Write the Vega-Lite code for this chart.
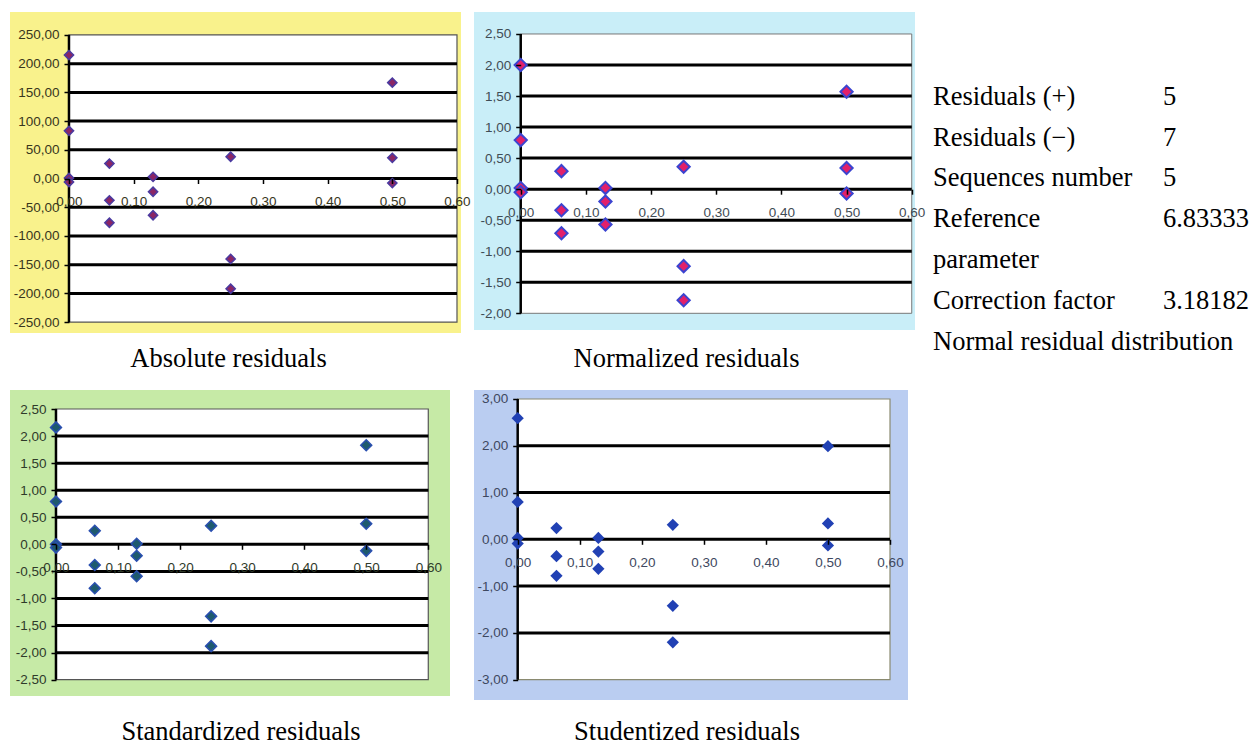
{
  "$schema": "https://vega.github.io/schema/vega-lite/v6.json",
  "background": "white",
  "padding": {"left": 10, "top": 12, "right": 0, "bottom": 0},
  "config": {
    "locale": {"number": {"decimal": ",", "thousands": ".", "grouping": [3], "currency": ["", ""], "minus": "-"}},
    "view": {"stroke": null},
    "axis": {"domain": false, "grid": false, "ticks": true, "tickColor": "black", "tickWidth": 1.5, "tickSize": 5, "tickCount": 30, "labelFont": "Liberation Sans", "labelFontSize": 13.5, "labelOverlap": false, "labelFlush": false, "labelBound": false, "zindex": 1}
  },
  "datasets": {
    "abs": [
      {"x": 0, "r": 215}, {"x": 0, "r": 83}, {"x": 0, "r": 1}, {"x": 0, "r": -6},
      {"x": 0.0625, "r": 26}, {"x": 0.0625, "r": -38}, {"x": 0.0625, "r": -77},
      {"x": 0.13, "r": 3}, {"x": 0.13, "r": -23}, {"x": 0.13, "r": -64},
      {"x": 0.25, "r": 38}, {"x": 0.25, "r": -140}, {"x": 0.25, "r": -192},
      {"x": 0.5, "r": 167}, {"x": 0.5, "r": 36}, {"x": 0.5, "r": -8}
    ],
    "norm": [
      {"x": 0, "r": 2.0}, {"x": 0, "r": 0.79}, {"x": 0, "r": 0.02}, {"x": 0, "r": -0.05},
      {"x": 0.0625, "r": 0.29}, {"x": 0.0625, "r": -0.34}, {"x": 0.0625, "r": -0.71},
      {"x": 0.13, "r": 0.02}, {"x": 0.13, "r": -0.2}, {"x": 0.13, "r": -0.57},
      {"x": 0.25, "r": 0.36}, {"x": 0.25, "r": -1.24}, {"x": 0.25, "r": -1.79},
      {"x": 0.5, "r": 1.57}, {"x": 0.5, "r": 0.34}, {"x": 0.5, "r": -0.07}
    ],
    "std": [
      {"x": 0, "r": 2.16}, {"x": 0, "r": 0.79}, {"x": 0, "r": 0.0}, {"x": 0, "r": -0.06},
      {"x": 0.0625, "r": 0.25}, {"x": 0.0625, "r": -0.38}, {"x": 0.0625, "r": -0.81},
      {"x": 0.13, "r": 0.01}, {"x": 0.13, "r": -0.21}, {"x": 0.13, "r": -0.59},
      {"x": 0.25, "r": 0.345}, {"x": 0.25, "r": -1.33}, {"x": 0.25, "r": -1.88},
      {"x": 0.5, "r": 1.83}, {"x": 0.5, "r": 0.38}, {"x": 0.5, "r": -0.12}
    ],
    "stud": [
      {"x": 0, "r": 2.59}, {"x": 0, "r": 0.8}, {"x": 0, "r": 0.03}, {"x": 0, "r": -0.09},
      {"x": 0.0625, "r": 0.24}, {"x": 0.0625, "r": -0.36}, {"x": 0.0625, "r": -0.78},
      {"x": 0.13, "r": 0.03}, {"x": 0.13, "r": -0.26}, {"x": 0.13, "r": -0.63},
      {"x": 0.25, "r": 0.31}, {"x": 0.25, "r": -1.42}, {"x": 0.25, "r": -2.2},
      {"x": 0.5, "r": 1.99}, {"x": 0.5, "r": 0.34}, {"x": 0.5, "r": -0.13}
    ],
    "stats": [
      {"line": 1, "label": "Residuals (+)", "value": "5"},
      {"line": 2, "label": "Residuals (−)", "value": "7"},
      {"line": 3, "label": "Sequences number", "value": "5"},
      {"line": 4, "label": "Reference", "value": "6.83333"},
      {"line": 5, "label": "parameter", "value": ""},
      {"line": 6, "label": "Correction factor", "value": "3.18182"},
      {"line": 7, "label": "Normal residual distribution", "value": ""}
    ]
  },
  "spacing": 17,
  "vconcat": [
    {
      "spacing": 3,
      "hconcat": [
        {
          "width": 451, "height": 321,
          "view": {"fill": "#F9F28C", "stroke": null},
          "title": {"text": "Absolute residuals", "orient": "bottom", "anchor": "middle", "font": "Liberation Serif", "fontSize": 26.5, "fontWeight": "normal", "color": "black", "offset": 13, "dx": -7},
          "layer": [
            {
              "data": {"values": [{}]},
              "mark": {"type": "rect", "fill": "white", "stroke": "#555555", "strokeWidth": 1.2},
              "encoding": {
                "x": {"datum": 0, "type": "quantitative", "title": null, "scale": {"domain": [-0.0912, 0.6062], "nice": false, "zero": false},
                      "axis": {"values": [0, 0.1, 0.2, 0.3, 0.4, 0.5, 0.6], "tickCount": 30, "format": ".2f", "offset": -154.5, "labelPadding": 11, "labelColor": "#38361c", "labelOverlap": false, "zindex": 1}},
                "x2": {"datum": 0.6},
                "y": {"datum": -250, "type": "quantitative", "title": null, "scale": {"domain": [-269, 290], "nice": false, "zero": false},
                      "axis": {"values": [-250, -200, -150, -100, -50, 0, 50, 100, 150, 200, 250], "tickCount": 30, "format": ".2f", "offset": -59, "labelPadding": 5, "labelColor": "#38361c", "labelOverlap": false, "zindex": 1}},
                "y2": {"datum": 250}
              }
            },
            {
              "data": {"values": [{"g": 200}, {"g": 150}, {"g": 100}, {"g": 50}, {"g": 0}, {"g": -50}, {"g": -100}, {"g": -150}, {"g": -200}]},
              "mark": {"type": "rule", "color": "black", "strokeWidth": 3},
              "encoding": {"y": {"field": "g", "type": "quantitative", "title": null}, "x": {"datum": 0, "type": "quantitative", "title": null}, "x2": {"datum": 0.6}}
            },
            {
              "data": {"values": [{}]},
              "mark": {"type": "rule", "color": "black", "strokeWidth": 2.5},
              "encoding": {"x": {"datum": 0, "type": "quantitative", "title": null}, "y": {"datum": -250, "type": "quantitative", "title": null}, "y2": {"datum": 250}}
            },
            {
              "data": {"name": "abs"},
              "mark": {"type": "point", "shape": "diamond", "filled": true, "size": 85, "fill": "#8B2565", "stroke": "#4A3AA0", "strokeWidth": 1.5, "opacity": 1},
              "encoding": {"x": {"field": "x", "type": "quantitative", "title": null}, "y": {"field": "r", "type": "quantitative", "title": null}}
            }
          ]
        },
        {
          "width": 441, "height": 318,
          "view": {"fill": "#C9EEF8", "stroke": null},
          "title": {"text": "Normalized residuals", "orient": "bottom", "anchor": "middle", "font": "Liberation Serif", "fontSize": 26.5, "fontWeight": "normal", "color": "black", "offset": 16, "dx": -8},
          "layer": [
            {
              "data": {"values": [{}]},
              "mark": {"type": "rect", "fill": "white", "stroke": "#777777", "strokeWidth": 1},
              "encoding": {
                "x": {"datum": 0, "type": "quantitative", "title": null, "scale": {"domain": [-0.0717, 0.605], "nice": false, "zero": false},
                      "axis": {"values": [0, 0.1, 0.2, 0.3, 0.4, 0.5, 0.6], "tickCount": 30, "format": ".2f", "offset": -140.8, "labelPadding": 11, "labelColor": "#3f4c55", "labelOverlap": false, "zindex": 1}},
                "x2": {"datum": 0.6},
                "y": {"datum": -2, "type": "quantitative", "title": null, "scale": {"domain": [-2.269, 2.854], "nice": false, "zero": false},
                      "axis": {"values": [-2, -1.5, -1, -0.5, 0, 0.5, 1, 1.5, 2, 2.5], "tickCount": 30, "format": ".2f", "offset": -46.7, "labelPadding": 5, "labelColor": "#3f4c55", "labelOverlap": false, "zindex": 1}},
                "y2": {"datum": 2.5}
              }
            },
            {
              "data": {"values": [{"g": 2}, {"g": 1.5}, {"g": 1}, {"g": 0.5}, {"g": 0}, {"g": -0.5}, {"g": -1}, {"g": -1.5}]},
              "mark": {"type": "rule", "color": "black", "strokeWidth": 3},
              "encoding": {"y": {"field": "g", "type": "quantitative", "title": null}, "x": {"datum": 0, "type": "quantitative", "title": null}, "x2": {"datum": 0.6}}
            },
            {
              "data": {"values": [{}]},
              "mark": {"type": "rule", "color": "black", "strokeWidth": 2.5},
              "encoding": {"x": {"datum": 0, "type": "quantitative", "title": null}, "y": {"datum": -2, "type": "quantitative", "title": null}, "y2": {"datum": 2.5}}
            },
            {
              "data": {"name": "norm"},
              "mark": {"type": "point", "shape": "diamond", "filled": true, "size": 150, "fill": "#E2206A", "stroke": "#3B44D0", "strokeWidth": 2, "opacity": 1},
              "encoding": {"x": {"field": "x", "type": "quantitative", "title": null}, "y": {"field": "r", "type": "quantitative", "title": null}}
            }
          ]
        },
        {
          "width": 325, "height": 321,
          "data": {"name": "stats"},
          "view": {"stroke": null},
          "layer": [
            {
              "mark": {"type": "text", "align": "left", "baseline": "middle", "font": "Liberation Serif", "fontSize": 26.5, "color": "black"},
              "encoding": {
                "x": {"datum": 0, "type": "quantitative", "scale": {"domain": [-0.0217, 1.3913], "nice": false, "zero": false}, "axis": null},
                "y": {"field": "line", "type": "quantitative", "scale": {"domain": [-1.0745, 6.787], "reverse": true, "nice": false, "zero": false}, "axis": null},
                "text": {"field": "label"}
              }
            },
            {
              "mark": {"type": "text", "align": "left", "baseline": "middle", "font": "Liberation Serif", "fontSize": 26.5, "color": "black"},
              "encoding": {
                "x": {"datum": 1, "type": "quantitative", "axis": null},
                "y": {"field": "line", "type": "quantitative", "axis": null},
                "text": {"field": "value"}
              }
            }
          ]
        }
      ]
    },
    {
      "spacing": 24,
      "hconcat": [
        {
          "width": 440, "height": 306,
          "view": {"fill": "#C6EAA6", "stroke": null},
          "title": {"text": "Standardized residuals", "orient": "bottom", "anchor": "middle", "font": "Liberation Serif", "fontSize": 26.5, "fontWeight": "normal", "color": "black", "offset": 23, "dx": 11},
          "layer": [
            {
              "data": {"values": [{}]},
              "mark": {"type": "rect", "fill": "white", "stroke": "#555555", "strokeWidth": 1.2},
              "encoding": {
                "x": {"datum": 0, "type": "quantitative", "title": null, "scale": {"domain": [-0.0741, 0.635], "nice": false, "zero": false},
                      "axis": {"values": [0, 0.1, 0.2, 0.3, 0.4, 0.5, 0.6], "tickCount": 30, "format": ".2f", "offset": -151.7, "labelPadding": 11, "labelColor": "#2f3a2a", "labelOverlap": false, "zindex": 1}},
                "x2": {"datum": 0.6},
                "y": {"datum": -2.5, "type": "quantitative", "title": null, "scale": {"domain": [-2.801, 2.851], "nice": false, "zero": false},
                      "axis": {"values": [-2.5, -2, -1.5, -1, -0.5, 0, 0.5, 1, 1.5, 2, 2.5], "tickCount": 30, "format": ".2f", "offset": -46, "labelPadding": 5, "labelColor": "#2f3a2a", "labelOverlap": false, "zindex": 1}},
                "y2": {"datum": 2.5}
              }
            },
            {
              "data": {"values": [{"g": 2}, {"g": 1.5}, {"g": 1}, {"g": 0.5}, {"g": 0}, {"g": -0.5}, {"g": -1}, {"g": -1.5}, {"g": -2}]},
              "mark": {"type": "rule", "color": "black", "strokeWidth": 3},
              "encoding": {"y": {"field": "g", "type": "quantitative", "title": null}, "x": {"datum": 0, "type": "quantitative", "title": null}, "x2": {"datum": 0.6}}
            },
            {
              "data": {"values": [{}]},
              "mark": {"type": "rule", "color": "black", "strokeWidth": 2.5},
              "encoding": {"x": {"datum": 0, "type": "quantitative", "title": null}, "y": {"datum": -2.5, "type": "quantitative", "title": null}, "y2": {"datum": 2.5}}
            },
            {
              "data": {"name": "std"},
              "mark": {"type": "point", "shape": "diamond", "filled": true, "size": 120, "fill": "#1E5A6E", "stroke": "#2A4FB0", "strokeWidth": 1.5, "opacity": 1},
              "encoding": {"x": {"field": "x", "type": "quantitative", "title": null}, "y": {"field": "r", "type": "quantitative", "title": null}}
            }
          ]
        },
        {
          "width": 434, "height": 310,
          "view": {"fill": "#BACDF1", "stroke": null},
          "title": {"text": "Studentized residuals", "orient": "bottom", "anchor": "middle", "font": "Liberation Serif", "fontSize": 26.5, "fontWeight": "normal", "color": "black", "offset": 19, "dx": -4},
          "layer": [
            {
              "data": {"values": [{}]},
              "mark": {"type": "rect", "fill": "white", "stroke": "#8a8a70", "strokeWidth": 1.2},
              "encoding": {
                "x": {"datum": 0, "type": "quantitative", "title": null, "scale": {"domain": [-0.0704, 0.629], "nice": false, "zero": false},
                      "axis": {"values": [0, 0.1, 0.2, 0.3, 0.4, 0.5, 0.6], "tickCount": 30, "format": ".2f", "offset": -160.7, "labelPadding": 11, "labelColor": "#3e4860", "labelOverlap": false, "zindex": 1}},
                "x2": {"datum": 0.6},
                "y": {"datum": -3, "type": "quantitative", "title": null, "scale": {"domain": [-3.434, 3.192], "nice": false, "zero": false},
                      "axis": {"values": [-3, -2, -1, 0, 1, 2, 3], "tickCount": 30, "format": ".2f", "offset": -43.7, "labelPadding": 5, "labelColor": "#3e4860", "labelOverlap": false, "zindex": 1}},
                "y2": {"datum": 3}
              }
            },
            {
              "data": {"values": [{"g": 2}, {"g": 1}, {"g": 0}, {"g": -1}, {"g": -2}]},
              "mark": {"type": "rule", "color": "black", "strokeWidth": 3},
              "encoding": {"y": {"field": "g", "type": "quantitative", "title": null}, "x": {"datum": 0, "type": "quantitative", "title": null}, "x2": {"datum": 0.6}}
            },
            {
              "data": {"values": [{}]},
              "mark": {"type": "rule", "color": "black", "strokeWidth": 2.5},
              "encoding": {"x": {"datum": 0, "type": "quantitative", "title": null}, "y": {"datum": -3, "type": "quantitative", "title": null}, "y2": {"datum": 3}}
            },
            {
              "data": {"name": "stud"},
              "mark": {"type": "point", "shape": "diamond", "filled": true, "size": 150, "fill": "#2141B4", "strokeWidth": 0, "opacity": 1},
              "encoding": {"x": {"field": "x", "type": "quantitative", "title": null}, "y": {"field": "r", "type": "quantitative", "title": null}}
            }
          ]
        }
      ]
    }
  ]
}
